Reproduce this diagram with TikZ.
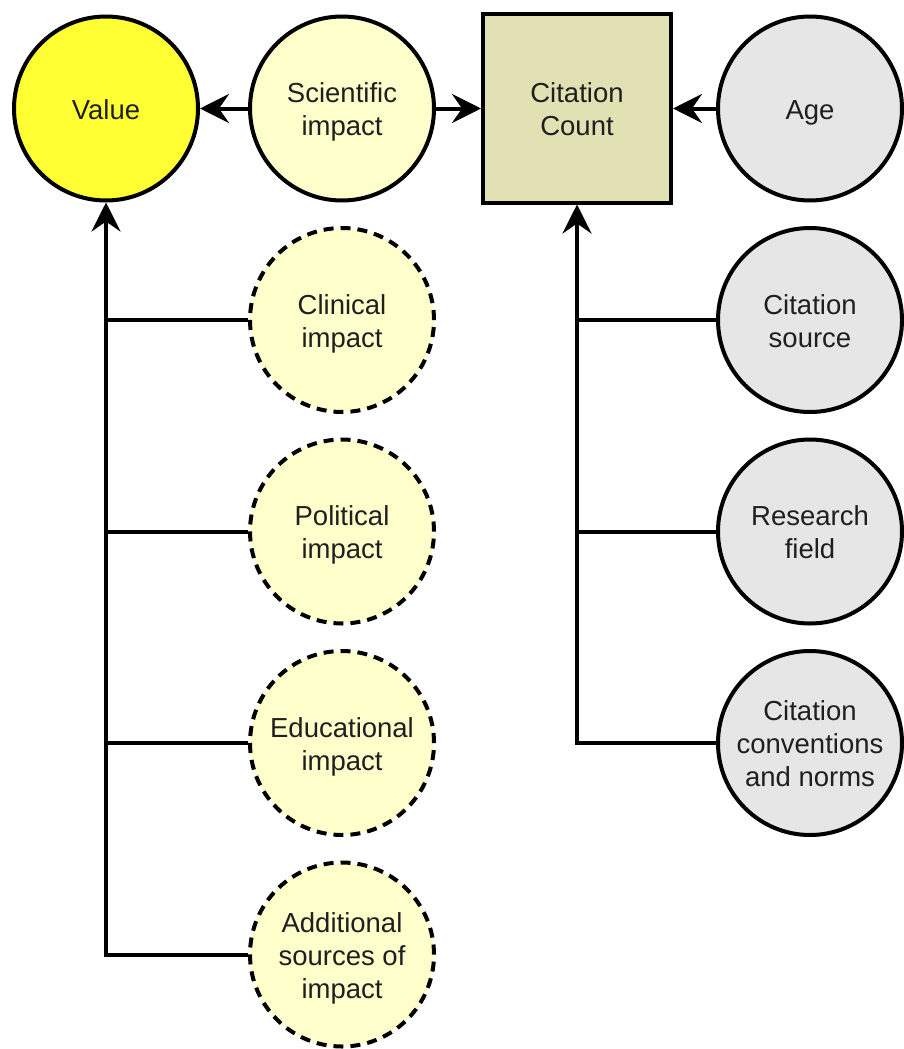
\documentclass[tikz,border=0pt]{standalone}
\usepackage{fontspec}
\setmainfont{Liberation Sans}
\usetikzlibrary{arrows.meta,positioning}

\definecolor{valuefill}{HTML}{FFFF33}
\definecolor{impactfill}{HTML}{FFFFCC}
\definecolor{countfill}{HTML}{E1E1B3}
\definecolor{factorfill}{HTML}{E6E6E6}

% one text line box, as tall as the line spacing
\newcommand{\lh}{\rule[-6pt]{0pt}{33pt}}

\begin{document}
\begin{tikzpicture}[x=1pt,y=-1pt,
  every node/.style={font=\fontsize{27.5}{33}\selectfont, text=black!88, align=center, inner sep=0pt, line width=4pt},
  bubble/.style={circle, draw, minimum size=184pt},
  maybe/.style={bubble, dash pattern=on 10pt off 7pt, fill=impactfill},
  link/.style={line width=4pt},
  arr/.style={link, -{Stealth[length=29pt,width=29pt,inset=10pt]}}]

\useasboundingbox (0,0) rectangle (903,1049);

% top row
\node[bubble, fill=valuefill] (value) at (106,108.5) {\lh Value};
\node[bubble, fill=impactfill] (sci) at (342,108.5) {\lh Scientific\\\lh impact};
\node[draw, fill=countfill, minimum size=188pt] (count) at (577,108.5) {\lh Citation\\\lh Count};
\node[bubble, fill=factorfill] (age) at (810,108.5) {\lh Age};

% other sources of value
\node[maybe] (clin) at (342,320) {\lh Clinical\\\lh impact};
\node[maybe] (pol) at (342,531.5) {\lh Political\\\lh impact};
\node[maybe] (edu) at (342,743) {\lh Educational\\\lh impact};
\node[maybe] (addl) at (342,954.5) {\lh Additional\\\lh sources of\\\lh impact};

% other drivers of citations
\node[bubble, fill=factorfill] (src) at (810,320) {\lh Citation\\\lh source};
\node[bubble, fill=factorfill] (field) at (810,531.5) {\lh Research\\\lh field};
\node[bubble, fill=factorfill] (norms) at (810,743) {\lh Citation\\\lh conventions\\\lh and norms};

\draw[arr] (sci) -- (value);
\draw[arr] (sci) -- (count);
\draw[arr] (age) -- (count);

\draw[arr] (addl.west) -| (value.south);
\draw[link] (clin.west) -- (clin.west -| value.south);
\draw[link] (pol.west) -- (pol.west -| value.south);
\draw[link] (edu.west) -- (edu.west -| value.south);

\draw[arr] (norms.west) -| (count.south);
\draw[link] (src.west) -- (src.west -| count.south);
\draw[link] (field.west) -- (field.west -| count.south);

\end{tikzpicture}
\end{document}
